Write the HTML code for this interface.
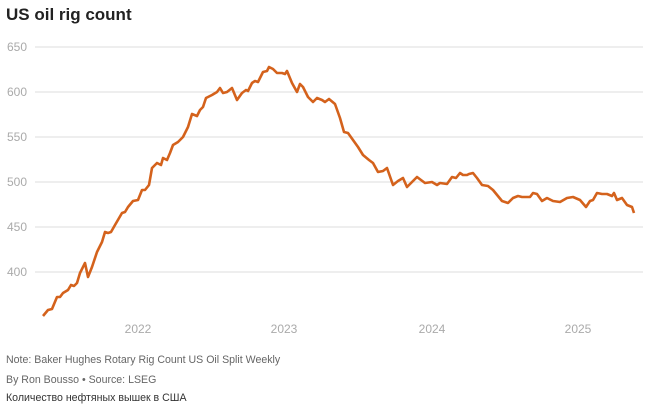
<!DOCTYPE html><html><head><style>
body{margin:0;background:#fff;font-family:"Liberation Sans","Noto Sans CJK SC",sans-serif;width:651px;height:413px;overflow:hidden;position:relative}
.t{position:absolute;left:6px;top:5px;font-size:17px;font-weight:bold;color:#222}
.n{position:absolute;left:6px;font-size:10.6px;color:#666}
</style></head><body>
<div class="t">US oil rig count</div>
<svg width="651" height="413" style="position:absolute;left:0;top:0">
<g stroke="#ddd" stroke-width="1">
<line x1="35" x2="643" y1="47" y2="47"/><line x1="35" x2="643" y1="92" y2="92"/><line x1="35" x2="643" y1="137" y2="137"/><line x1="35" x2="643" y1="182" y2="182"/><line x1="35" x2="643" y1="227" y2="227"/><line x1="35" x2="643" y1="272" y2="272"/></g>
<g fill="#aaa" font-size="12" font-family="Liberation Sans,sans-serif">
<text x="7" y="51">650</text><text x="7" y="96">600</text><text x="7" y="141">550</text><text x="7" y="186">500</text><text x="7" y="231">450</text><text x="7" y="276">400</text>
<g text-anchor="middle"><text x="138" y="333">2022</text><text x="284" y="333">2023</text><text x="432" y="333">2024</text><text x="578" y="333">2025</text></g></g>
<polyline fill="none" stroke="#d4621c" stroke-width="2.6" stroke-linejoin="round" points="43,316 48,310 52,309 57,297 60,297 63,293 68,290 71,285 74,286 77,283 80,273 85,263 88,277 92,267 97,252 102,242 105,232 108,233 111,232 115,225 122,213 125,212 128,207 133,201 138,200 142,190 145,190 149,185 152,168 157,163 161,165 163,158 167,160 170,153 173,145 178,142 183,137 188,127 192,114 197,116 200,110 203,107 206,98 212,95 217,92 220,88 223,93 227,92 232,88 237,100 242,93 246,90 248,91 252,83 255,81 258,82 263,72 267,71 269,67 273,69 277,73 282,73 285,74 287,71 292,83 297,92 300,84 303,87 308,97 313,102 317,98 322,100 325,102 329,99 335,104 340,118 344,132 348,133 353,140 358,147 363,155 369,160 373,163 378,172 383,171 387,168 393,185 398,181 403,178 407,187 412,182 417,177 425,183 432,182 437,185 440,183 447,184 452,177 456,178 460,173 463,175 467,175 469,174 473,173 477,178 482,185 488,186 493,190 502,201 508,203 513,198 518,196 522,197 530,197 533,193 537,194 542,201 547,198 553,201 560,202 567,198 573,197 580,200 586,207 590,201 593,200 597,193 602,194 607,194 612,196 614,193 617,200 622,198 627,205 632,207 634,213"/>
</svg>
<div class="n" style="top:354px">Note: Baker Hughes Rotary Rig Count US Oil Split Weekly</div>
<div class="n" style="top:374px">By Ron Bousso • Source: LSEG</div>
<div class="n" style="top:392px;color:#333">Количество нефтяных вышек в США</div>
</body></html>
